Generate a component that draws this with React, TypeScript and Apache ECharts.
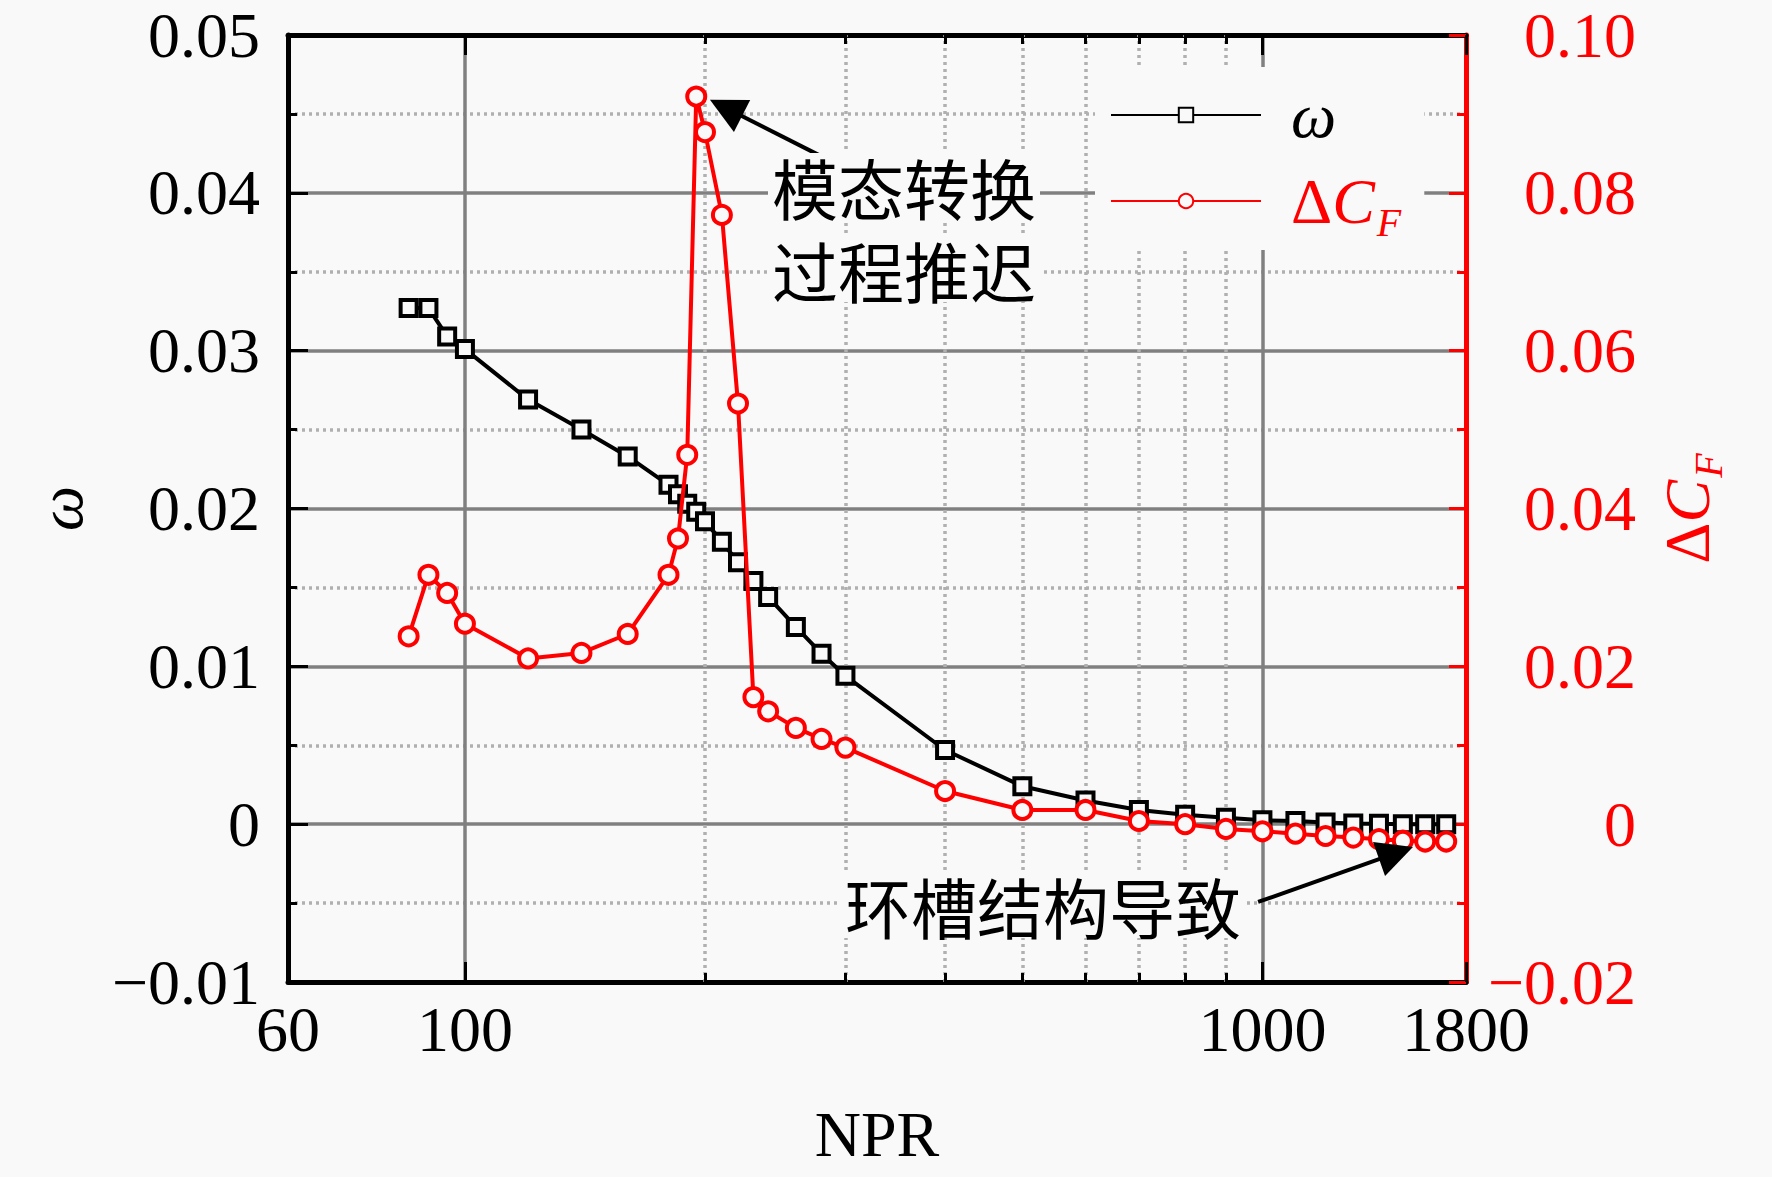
import React, { useEffect, useRef } from 'react';
import * as echarts from 'echarts';

// ---------- data ----------
const NPR = [85, 90, 95, 100, 120, 140, 160, 180, 185, 190, 195, 200, 210, 220, 230, 240, 260, 280, 300, 400, 500, 600, 700, 800, 900, 1000, 1100, 1200, 1300, 1400, 1500, 1600, 1700];
const OMEGA = [0.0327, 0.0327, 0.0309, 0.0301, 0.0269, 0.0250, 0.0233, 0.0215, 0.0209, 0.0203, 0.0198, 0.0192, 0.0179, 0.0166, 0.0154, 0.0144, 0.0125, 0.0108, 0.0094, 0.0047, 0.0024, 0.0015, 0.0009, 0.0006, 0.0004, 0.00025, 0.0002, 0.0001, 0.00005, 0.00002, 0, 0, 0];
const DELTA_CF = [0.0238, 0.0316, 0.0293, 0.0254, 0.0210, 0.0217, 0.0241, 0.0316, 0.0362, 0.0468, 0.0922, 0.0877, 0.0772, 0.0533, 0.0161, 0.0143, 0.0122, 0.0108, 0.0097, 0.0042, 0.0018, 0.0018, 0.0004, 0.0000, -0.0006, -0.0009, -0.0012, -0.0015, -0.0017, -0.0019, -0.0021, -0.0022, -0.0022];
const MINOR_NPR_GRID = [200, 300, 400, 500, 600, 700, 800, 900];
const X_RANGE = [60, 1800];
const LEFT_RANGE = [-0.01, 0.05];
const RIGHT_RANGE = [-0.02, 0.10];
const ANNOT_1_LINES = ['模态转换', '过程推迟'];
const ANNOT_1_ARROW = [[282.8, 0.0422], [212.5, 0.04538]];
const ANNOT_2_TEXT = '环槽结构导致';
const ANNOT_2_ARROW = [[987.6, -0.00493], [1470.6, -0.00183]];

const BG = '#f9f9f9';
const SERIF = '"Liberation Serif", "Times New Roman", serif';
const CJK = '"Noto Sans CJK SC", sans-serif';
const GRID_SOLID = '#808080';
const GRID_DOT = '#b0b0b0';
const RED = '#ff0000';

const fmt = (v: number) => (v === 0 ? '0' : (v < 0 ? '\u2212' : '') + Math.abs(v).toFixed(2));

export default function App() {
  const ref = useRef<HTMLDivElement>(null);
  useEffect(() => {
    document.body.style.margin = '0';
    document.body.style.background = BG;
    const chart = echarts.init(ref.current!, undefined, { renderer: 'svg' });
    const tickLen = 0.00057;
    const tickSegs: any[] = [];
    MINOR_NPR_GRID.forEach((v) => {
      tickSegs.push([{ coord: [v, LEFT_RANGE[1]] }, { coord: [v, LEFT_RANGE[1] - tickLen] }]);
      tickSegs.push([{ coord: [v, LEFT_RANGE[0]] }, { coord: [v, LEFT_RANGE[0] + tickLen] }]);
    });
    const annotText = (text: string, x: number, y: number) => ({
      type: 'text',
      x,
      y,
      z: 10,
      style: {
        text,
        font: '66px ' + CJK,
        fill: '#000',
        align: 'center',
        verticalAlign: 'middle',
        lineHeight: 66,
        backgroundColor: BG,
        padding: [0, 4],
      },
    });
    const option: any = {
      animation: false,
      backgroundColor: BG,
      grid: { left: 288, right: 306, top: 35, bottom: 195, outerBoundsMode: 'none', containLabel: false },
      legend: {
        data: ['ω', 'ΔCF'],
        orient: 'vertical',
        left: 1095,
        top: 67,
        itemWidth: 150,
        itemHeight: 18,
        itemGap: 22,
        padding: [16, 23, 8, 15],
        backgroundColor: BG,
        selectedMode: false,
        formatter: (name: string) => (name === 'ω' ? '{w|ω}' : '{d|Δ}{c|C}{s|F}'),
        textStyle: {
          rich: {
            w: { fontFamily: SERIF, fontStyle: 'italic', fontSize: 64, lineHeight: 64, color: '#000', padding: [0, 0, 0, 25] },
            d: { fontFamily: SERIF, fontSize: 64, lineHeight: 64, color: RED, verticalAlign: 'top', padding: [0, 0, 0, 25] },
            c: { fontFamily: SERIF, fontStyle: 'italic', fontSize: 64, lineHeight: 64, color: RED, verticalAlign: 'top' },
            s: { fontFamily: SERIF, fontStyle: 'italic', fontSize: 40, lineHeight: 40, color: RED, verticalAlign: 'top', padding: [33, 0, 0, 2] },
          },
        },
      },
      xAxis: [
        {
          type: 'log',
          logBase: 10,
          min: X_RANGE[0],
          max: X_RANGE[1],
          position: 'bottom',
          name: 'NPR',
          nameLocation: 'middle',
          nameGap: 120,
          nameTextStyle: { fontFamily: SERIF, fontSize: 64, color: '#000' },
          axisLine: { onZero: false, lineStyle: { color: '#000', width: 5 } },
          axisTick: { inside: true, length: 20, lineStyle: { color: '#000', width: 3 } },
          axisLabel: { fontFamily: SERIF, fontSize: 64, lineHeight: 48, color: '#000', margin: 23, formatter: (v: number) => String(Math.round(v)) },
          splitLine: { show: true, lineStyle: { color: GRID_SOLID, width: 3.5 } },
        },
        {
          type: 'log',
          logBase: 10,
          min: X_RANGE[0],
          max: X_RANGE[1],
          position: 'top',
          axisLine: { onZero: false, lineStyle: { color: '#000', width: 5 } },
          axisTick: { inside: true, length: 20, lineStyle: { color: '#000', width: 3 } },
          axisLabel: { show: false },
          splitLine: { show: false },
        },
      ],
      yAxis: [
        {
          type: 'value',
          min: LEFT_RANGE[0],
          max: LEFT_RANGE[1],
          interval: 0.01,
          position: 'left',
          name: 'ω',
          nameLocation: 'middle',
          nameRotate: 90,
          nameGap: 196,
          nameTextStyle: { fontFamily: SERIF, fontStyle: 'italic', fontSize: 64, color: '#000' },
          axisLine: { show: true, onZero: false, lineStyle: { color: '#000', width: 5 } },
          axisTick: { show: true, inside: true, length: 20, lineStyle: { color: '#000', width: 3 } },
          minorTick: { show: true, splitNumber: 2, length: 9, lineStyle: { color: '#000', width: 3 } },
          axisLabel: { fontFamily: SERIF, fontSize: 64, lineHeight: 48, color: '#000', margin: 28, formatter: fmt },
          splitLine: { show: true, lineStyle: { color: GRID_SOLID, width: 3.5 } },
          minorSplitLine: { show: true, lineStyle: { color: GRID_DOT, width: 3.5, type: [3, 4] } },
        },
        {
          type: 'value',
          min: RIGHT_RANGE[0],
          max: RIGHT_RANGE[1],
          interval: 0.02,
          position: 'right',
          name: '{d|Δ}{c|C}{s|F}',
          nameLocation: 'middle',
          nameRotate: 90,
          nameGap: 189,
          nameTextStyle: {
            rich: {
              d: { fontFamily: SERIF, fontSize: 64, lineHeight: 64, color: RED, verticalAlign: 'top' },
              c: { fontFamily: SERIF, fontStyle: 'italic', fontSize: 64, lineHeight: 64, color: RED, verticalAlign: 'top' },
              s: { fontFamily: SERIF, fontStyle: 'italic', fontSize: 40, lineHeight: 40, color: RED, verticalAlign: 'top', padding: [33, 0, 0, 2] },
            },
          },
          axisLine: { show: true, onZero: false, lineStyle: { color: RED, width: 5 } },
          axisTick: { show: true, inside: true, length: 17, lineStyle: { color: RED, width: 3 } },
          minorTick: { show: true, splitNumber: 2, length: 9, lineStyle: { color: RED, width: 3 } },
          axisLabel: { fontFamily: SERIF, fontSize: 64, lineHeight: 48, color: RED, margin: 170, align: 'right', formatter: fmt },
          splitLine: { show: false },
        },
      ],
      series: [
        {
          name: 'grid',
          type: 'line',
          xAxisIndex: 0,
          yAxisIndex: 0,
          data: [[NPR[0], OMEGA[0]]],
          symbol: 'none',
          lineStyle: { opacity: 0 },
          silent: true,
          z: 1,
          markLine: {
            silent: true,
            z: 1,
            symbol: ['none', 'none'],
            label: { show: false },
            lineStyle: { color: GRID_DOT, width: 3.5, type: [3, 4] },
            emphasis: { disabled: true },
            data: [
              ...MINOR_NPR_GRID.map((v) => ({ xAxis: v })),
              ...tickSegs.map((seg) => [
                { ...seg[0], lineStyle: { color: '#000', width: 3, type: 'solid' } },
                seg[1],
              ]),
            ],
          },
        },
        {
          name: 'ω',
          type: 'line',
          xAxisIndex: 0,
          yAxisIndex: 0,
          data: NPR.map((x, i) => [x, OMEGA[i]]),
          symbol: 'rect',
          symbolSize: 16,
          lineStyle: { color: '#000', width: 4 },
          itemStyle: { color: BG, borderColor: '#000', borderWidth: 4 },
          emphasis: { disabled: true },
          z: 2,
          markLine: {
            silent: true,
            symbol: ['none', 'triangle'],
            symbolSize: 36,
            label: { show: false },
            lineStyle: { color: '#000', width: 4, type: 'solid' },
            itemStyle: { color: '#000' },
            emphasis: { disabled: true },
            data: [
              [{ coord: ANNOT_1_ARROW[0] }, { coord: ANNOT_1_ARROW[1] }],
              [{ coord: ANNOT_2_ARROW[0] }, { coord: ANNOT_2_ARROW[1] }],
            ],
          },
        },
        {
          name: 'ΔCF',
          type: 'line',
          xAxisIndex: 0,
          yAxisIndex: 1,
          data: NPR.map((x, i) => [x, DELTA_CF[i]]),
          symbol: 'circle',
          symbolSize: 18,
          lineStyle: { color: RED, width: 4 },
          itemStyle: { color: BG, borderColor: RED, borderWidth: 4 },
          emphasis: { disabled: true },
          z: 3,
        },
      ],
      graphic: [
        annotText(ANNOT_1_LINES[0], 904, 186),
        annotText(ANNOT_1_LINES[1], 904, 269),
        annotText(ANNOT_2_TEXT, 1043, 905),
      ],
    };
    chart.setOption(option);
    return () => chart.dispose();
  }, []);
  return <div ref={ref} style={{ width: 1772, height: 1177, background: BG }} />;
}
